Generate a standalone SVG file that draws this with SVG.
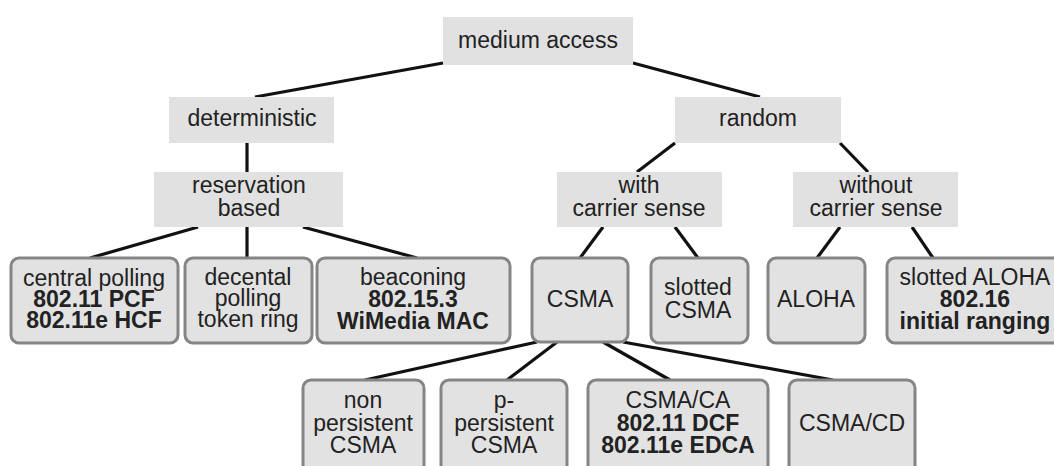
<svg xmlns="http://www.w3.org/2000/svg" width="1054" height="466" viewBox="0 0 1054 466">
<style>
  .flat { fill: #e1e1e1; stroke: none; }
  .rbox { fill: #e2e2e2; stroke: #858585; stroke-width: 3; }
  text { font-family: "Liberation Sans", Arial, sans-serif; font-size: 23px; fill: #222; text-anchor: middle; }
  .b { font-weight: bold; }
  .conn line { stroke: #111; stroke-width: 3.2; stroke-linecap: butt; }
</style>
<rect width="1054" height="466" fill="#ffffff"/>
<g id="connectors" class="conn">
  <line x1="443" y1="63" x2="255" y2="97"/>
  <line x1="633" y1="63" x2="760" y2="97"/>
  <line x1="247" y1="143" x2="247" y2="172"/>
  <line x1="198" y1="227" x2="90" y2="258"/>
  <line x1="247" y1="227" x2="247" y2="258"/>
  <line x1="303" y1="227" x2="417" y2="258"/>
  <line x1="675" y1="143" x2="637" y2="172"/>
  <line x1="840" y1="143" x2="868" y2="172"/>
  <line x1="603" y1="227" x2="580" y2="258"/>
  <line x1="675" y1="227" x2="698" y2="258"/>
  <line x1="840" y1="227" x2="817" y2="258"/>
  <line x1="912" y1="227" x2="933" y2="258"/>
  <line x1="537" y1="342" x2="365" y2="380"/>
  <line x1="557" y1="342" x2="507" y2="380"/>
  <line x1="603" y1="342" x2="670" y2="380"/>
  <line x1="623" y1="342" x2="833" y2="380"/>
</g>
<g id="medium-access">
  <rect class="flat" x="443" y="17" width="190" height="48"/>
  <text x="538" y="48">medium access</text>
</g>
<g id="deterministic">
  <rect class="flat" x="169" y="97" width="165" height="46"/>
  <text x="252" y="126">deterministic</text>
</g>
<g id="random">
  <rect class="flat" x="675" y="97" width="166" height="46"/>
  <text x="758" y="126">random</text>
</g>
<g id="reservation-based">
  <rect class="flat" x="154" y="172" width="189" height="55"/>
  <text x="249" y="193">reservation</text>
  <text x="249" y="216">based</text>
</g>
<g id="with-carrier-sense">
  <rect class="flat" x="557" y="172" width="165" height="55"/>
  <text x="639" y="193">with</text>
  <text x="639" y="216">carrier sense</text>
</g>
<g id="without-carrier-sense">
  <rect class="flat" x="793" y="172" width="165" height="55"/>
  <text x="876" y="193">without</text>
  <text x="876" y="216">carrier sense</text>
</g>
<g id="central-polling">
  <rect class="rbox" x="11" y="258" width="167" height="85" rx="8"/>
  <text x="94" y="286">central polling</text>
  <text x="94" y="307" class="b">802.11 PCF</text>
  <text x="94" y="328" class="b">802.11e HCF</text>
</g>
<g id="decental-polling">
  <rect class="rbox" x="185" y="258" width="127" height="85" rx="8"/>
  <text x="248" y="285">decental</text>
  <text x="248" y="306">polling</text>
  <text x="248" y="327">token ring</text>
</g>
<g id="beaconing">
  <rect class="rbox" x="317" y="258" width="193" height="85" rx="8"/>
  <text x="413" y="285">beaconing</text>
  <text x="413" y="307" class="b">802.15.3</text>
  <text x="413" y="329" class="b">WiMedia MAC</text>
</g>
<g id="csma">
  <rect class="rbox" x="532" y="258" width="96" height="84" rx="8"/>
  <text x="580" y="307">CSMA</text>
</g>
<g id="slotted-csma">
  <rect class="rbox" x="651" y="258" width="97" height="85" rx="8"/>
  <text x="698" y="295">slotted</text>
  <text x="698" y="318">CSMA</text>
</g>
<g id="aloha">
  <rect class="rbox" x="768" y="258" width="97" height="85" rx="8"/>
  <text x="816" y="307">ALOHA</text>
</g>
<g id="slotted-aloha">
  <rect class="rbox" x="887" y="258" width="180" height="85" rx="8"/>
  <text x="975" y="285">slotted ALOHA</text>
  <text x="975" y="307" class="b">802.16</text>
  <text x="975" y="329" class="b">initial ranging</text>
</g>
<g id="non-persistent-csma">
  <rect class="rbox" x="303" y="380" width="121" height="100" rx="8"/>
  <text x="363" y="408">non</text>
  <text x="363" y="431">persistent</text>
  <text x="363" y="453">CSMA</text>
</g>
<g id="p-persistent-csma">
  <rect class="rbox" x="441" y="380" width="126" height="100" rx="8"/>
  <text x="504" y="408">p-</text>
  <text x="504" y="431">persistent</text>
  <text x="504" y="453">CSMA</text>
</g>
<g id="csma-ca">
  <rect class="rbox" x="588" y="380" width="180" height="100" rx="8"/>
  <text x="678" y="408">CSMA/CA</text>
  <text x="678" y="431" class="b">802.11 DCF</text>
  <text x="678" y="453" class="b">802.11e EDCA</text>
</g>
<g id="csma-cd">
  <rect class="rbox" x="789" y="380" width="126" height="100" rx="8"/>
  <text x="852" y="431">CSMA/CD</text>
</g>
</svg>
